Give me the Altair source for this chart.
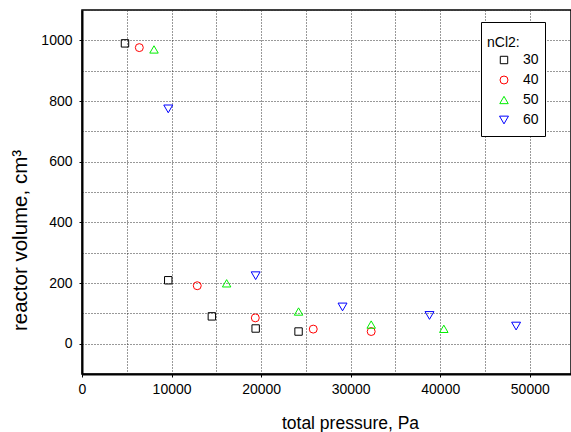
import altair as alt
import pandas as pd

series_names = ["30", "40", "50", "60"]
pressure_30 = [4800, 9630, 14500, 19390, 24180]
volume_30 = [990, 209, 90, 50, 40]
pressure_40 = [6400, 12870, 19350, 25820, 32290]
volume_40 = [976, 191, 85, 48, 40]
pressure_50 = [8040, 16150, 24180, 32290, 40400]
volume_50 = [970, 199, 106, 63, 49]
pressure_60 = [9630, 19390, 29090, 38800, 48470]
volume_60 = [774, 224, 121, 93, 58]

x_ticks = list(range(0, 55000, 5000))
y_ticks = list(range(-100, 1101, 100))

rows = []
for name, xs, ys in zip(series_names,
                        [pressure_30, pressure_40, pressure_50, pressure_60],
                        [volume_30, volume_40, volume_50, volume_60]):
    for x, y in zip(xs, ys):
        rows.append({"nCl2": name, "pressure": x, "volume": y})
df = pd.DataFrame(rows)

FONT = "Liberation Sans"

x_axis = alt.Axis(
    values=x_ticks,
    labelExpr="datum.value % 10000 === 0 ? datum.label : ''",
    format="d",
    grid=True, gridColor="#333", gridDash=[1, 2], gridWidth=1,
    domainColor="black", domainWidth=2,
    tickColor={"condition": {"test": "datum.value % 10000 === 0", "value": "black"}, "value": "transparent"},
    tickSize=3, labelPadding=5,
    labelFont=FONT, labelFontSize=14, labelColor="black",
    titleFont=FONT, titleFontSize=17.5, titleFontWeight="normal", titleColor="black",
    titleX=268, titleY=49, titleBaseline="middle", titleAnchor="start", titleAlign="center",
    labelFlush=False,
)
y_axis = alt.Axis(
    values=y_ticks,
    labelExpr="datum.value % 200 === 0 ? datum.label : ''",
    format="d",
    grid=True, gridColor="#333", gridDash=[1, 2], gridWidth=1,
    domainColor="black", domainWidth=2,
    tickColor={"condition": {"test": "datum.value % 200 === 0", "value": "black"}, "value": "transparent"},
    tickSize=3, labelPadding=7,
    labelFont=FONT, labelFontSize=14, labelColor="black",
    titleFont=FONT, titleFontSize=20.5, titleFontWeight="normal", titleColor="black",
    titleX=-62, titleY=230, titleBaseline="middle", titleAngle=270, titleAlign="center",
    labelFlush=False,
)

legend = alt.Legend(
    title=["", "nCl2:"], orient="none", legendX=399, legendY=12,
    strokeColor="black", fillColor="white", padding=6,
    titleFont=FONT, titleFontSize=14, titleFontWeight="normal", titleColor="black",
    titleLineHeight=8, titlePadding=0,
    labelFont=FONT, labelFontSize=14, labelColor="black",
    symbolOffset=10, labelOffset=12, rowPadding=-2,
    symbolStrokeWidth=1, clipHeight=20,
)

chart = alt.Chart(df).mark_point(filled=False, strokeWidth=1, opacity=1).encode(
    x=alt.X("pressure:Q", title="total pressure, Pa",
            scale=alt.Scale(domain=[0, 54600], nice=False, zero=False), axis=x_axis),
    y=alt.Y("volume:Q", title="reactor volume, cm³",
            scale=alt.Scale(domain=[-100, 1100], nice=False, zero=False), axis=y_axis),
    color=alt.Color("nCl2:N", scale=alt.Scale(domain=series_names,
                    range=["#000000", "#ff0000", "#00ee00", "#0000ff"]), legend=legend),
    shape=alt.Shape("nCl2:N", scale=alt.Scale(domain=series_names,
                    range=["square", "circle", "triangle-up", "triangle-down"]), legend=legend),
    size=alt.Size("nCl2:N", scale=alt.Scale(domain=series_names,
                  range=[55, 80, 80, 80]), legend=legend),
).properties(
    width=489, height=364,
    padding={"left": 82, "top": 10, "right": 0, "bottom": 58},
    autosize=alt.AutoSizeParams(type="none"),
    background="white",
).configure_view(stroke="black", strokeWidth=1.5)

chart.save("out.html", embed_options={"renderer": "svg", "actions": False})
